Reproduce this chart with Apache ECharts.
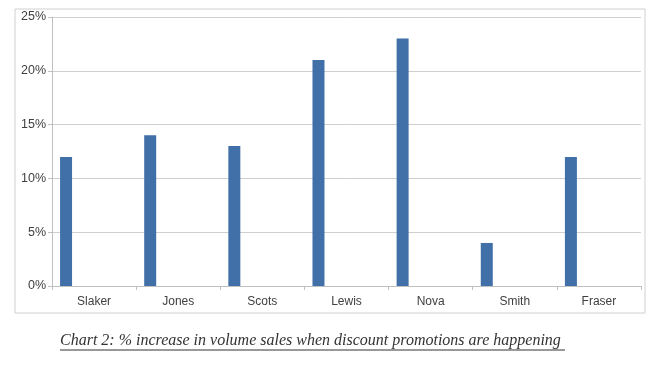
<!DOCTYPE html>
<html>
<head>
<meta charset="utf-8">
<script src="https://cdn.jsdelivr.net/npm/echarts@6/dist/echarts.min.js"></script>
<style>html,body{margin:0;padding:0;background:#fff;}#c{width:652px;height:374px;}</style>
</head>
<body>
<div id="c"></div>
<script>
const categories = ['Slaker', 'Jones', 'Scots', 'Lewis', 'Nova', 'Smith', 'Fraser'];
const increasePct = [12, 14, 13, 21, 23, 4, 12];
const emptySeries = [null, null, null, null, null, null, null];
const yTicks = { min: 0, max: 25, interval: 5 };
const caption = 'Chart 2: % increase in volume sales when discount promotions are happening';

const chart = echarts.init(document.getElementById('c'), null, { renderer: 'canvas' });
chart.setOption({
  animation: false,
  backgroundColor: '#ffffff',
  grid: { left: 52, right: 11, top: 17, bottom: 88 },
  xAxis: {
    type: 'category',
    data: categories,
    axisLine: { lineStyle: { color: '#bfbfbf', width: 1 } },
    axisTick: { show: true, length: 4, lineStyle: { color: '#bfbfbf' } },
    axisLabel: { color: '#404040', fontSize: 12, fontFamily: 'Liberation Sans, Arial, sans-serif', margin: 10 }
  },
  yAxis: {
    type: 'value',
    min: yTicks.min, max: yTicks.max, interval: yTicks.interval,
    axisLine: { show: true, lineStyle: { color: '#bfbfbf', width: 1 } },
    axisTick: { show: true, length: 4, lineStyle: { color: '#bfbfbf' } },
    splitLine: { lineStyle: { color: '#cfcfcf', width: 1 } },
    axisLabel: { color: '#404040', fontSize: 12.5, fontFamily: 'Liberation Sans, Arial, sans-serif', margin: 6, formatter: '{value}%' }
  },
  series: [
    { type: 'bar', data: increasePct, barWidth: 12, barGap: '367%', itemStyle: { color: '#4170a8' } },
    { type: 'bar', data: emptySeries, barWidth: 12, itemStyle: { color: '#4170a8' } }
  ],
  graphic: [
    { type: 'rect', shape: { x: 15, y: 9, width: 630, height: 304 }, style: { fill: 'none', stroke: '#d0d0d0', lineWidth: 1 }, z: -1 },
    { type: 'text', left: 60, top: 333, style: { text: caption, fill: '#333333', font: 'italic 16px "Liberation Serif", "Times New Roman", serif' } },
    { type: 'line', shape: { x1: 60, y1: 350, x2: 565, y2: 350 }, style: { stroke: '#333333', lineWidth: 1 } }
  ]
});
</script>
</body>
</html>
